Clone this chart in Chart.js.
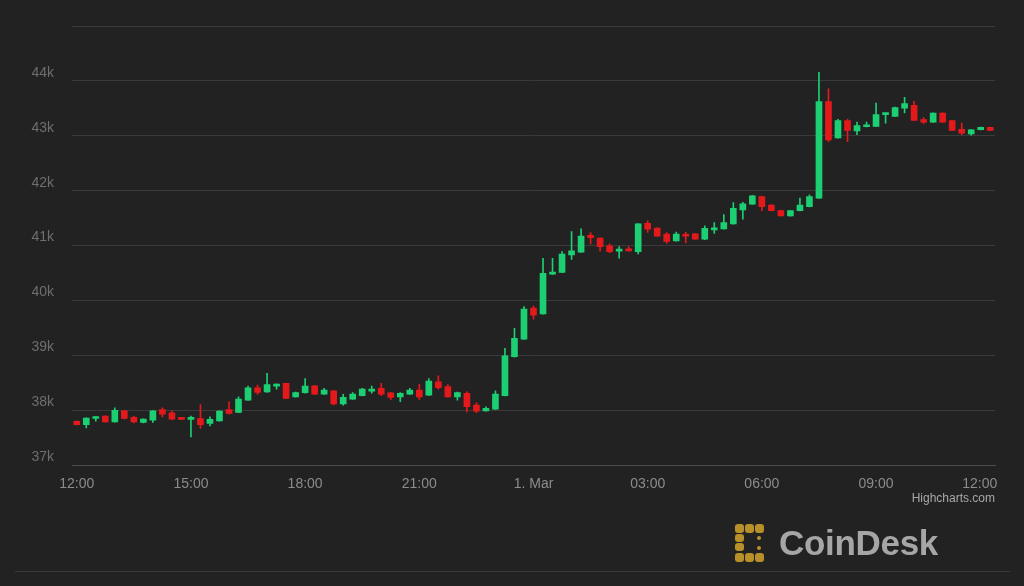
<!DOCTYPE html>
<html>
<head>
<meta charset="utf-8">
<script src="https://cdn.jsdelivr.net/npm/chart.js@4.4.1/dist/chart.umd.min.js"></script>
<style>
  html, body { margin: 0; padding: 0; background: #222222; }
  .wrap { position: relative; width: 1024px; height: 586px; overflow: hidden; background: #222222; }
  #chart { position: absolute; left: 0; top: 0; }
  .credits { position: absolute; right: 29px; top: 491px; font: 12px "Liberation Sans", Arial, sans-serif; color: #a8a8a8; }
  .logo { position: absolute; left: 735px; top: 523px; display: flex; align-items: center; }
  .logo span { font: bold 35px "Liberation Sans", Arial, sans-serif; color: #a6a6a6; margin-left: 6px; letter-spacing: -0.3px; }
  .rule { position: absolute; left: 15px; right: 14px; top: 571px; height: 1px; background: #3a3a3a; }
</style>
</head>
<body>
<div class="wrap">
  <canvas id="chart" width="1024" height="586"></canvas>
  <div class="credits">Highcharts.com</div>
  <div class="logo">
    <svg width="38" height="38" viewBox="0 0 38 38">
      <g fill="#b8902a">
        <rect x="0" y="0" width="9" height="9" rx="3"/>
        <rect x="10" y="0" width="9" height="9" rx="3"/>
        <rect x="20" y="0" width="9" height="9" rx="3"/>
        <rect x="0" y="10" width="9" height="8" rx="3"/>
        <rect x="0" y="19" width="9" height="8" rx="3"/>
        <rect x="0" y="29" width="9" height="9" rx="3"/>
        <rect x="10" y="29" width="9" height="9" rx="3"/>
        <rect x="20" y="29" width="9" height="9" rx="3"/>
        <circle cx="24" cy="14" r="2"/>
        <circle cx="24" cy="24" r="2"/>
      </g>
    </svg>
    <span>CoinDesk</span>
  </div>
  <div class="rule"></div>
</div>
<script>
// 15-minute BTC candles, 29 Feb 12:00 -> 1 Mar 12:00
const tickLabels = ['12:00', '15:00', '18:00', '21:00', '1. Mar', '03:00', '06:00', '09:00', '12:00'];

const openValues = [
  37800, 37740, 37850, 37895, 37790, 37990, 37870, 37780, 37820, 38015, 37955, 37865, 37835,
  37850, 37760, 37805, 38015, 37960, 38185, 38410, 38335, 38440, 38490, 38245, 38320, 38445,
  38295, 38355, 38115, 38205, 38265, 38350, 38400, 38320, 38245, 38295, 38370, 38275, 38520,
  38430, 38245, 38310, 38095, 37990, 38020, 38265, 38975, 39295, 39860, 39755, 40480, 40510,
  40830, 40880, 41185, 41135, 40995, 40900, 40935, 40890, 41405, 41320, 41210, 41085, 41200,
  41215, 41115, 41285, 41305, 41395, 41650, 41755, 41895, 41740, 41640, 41540, 41635, 41710,
  41865, 43625, 42960, 43275, 43090, 43165, 43170, 43385, 43355, 43505, 43555, 43295, 43250,
  43415, 43275, 43120, 43035, 43110, 43155
];
const highValues = [
  37810, 37865, 37885, 37900, 38045, 38000, 37895, 37845, 37995, 38045, 37990, 37870, 37895,
  38105, 37880, 37990, 38155, 38245, 38440, 38460, 38675, 38480, 38495, 38330, 38580, 38450,
  38400, 38360, 38290, 38325, 38400, 38440, 38490, 38325, 38325, 38400, 38475, 38580, 38630,
  38470, 38330, 38335, 38135, 38065, 38355, 39130, 39495, 39890, 39900, 40770, 40770, 40890,
  41255, 41305, 41235, 41140, 41030, 40980, 40980, 41400, 41450, 41325, 41235, 41245, 41240,
  41220, 41360, 41420, 41565, 41785, 41790, 41915, 41900, 41745, 41645, 41640, 41865, 41925,
  44155, 43855, 43300, 43305, 43250, 43250, 43595, 43410, 43525, 43700, 43630, 43330, 43420,
  43420, 43280, 43230, 43115, 43160, 43160
];
const lowValues = [
  37735, 37680, 37800, 37785, 37785, 37845, 37770, 37770, 37780, 37880, 37830, 37830, 37515,
  37670, 37715, 37800, 37930, 37955, 38180, 38290, 38325, 38385, 38210, 38240, 38310, 38290,
  38290, 38100, 38095, 38200, 38260, 38310, 38265, 38200, 38155, 38290, 38200, 38270, 38385,
  38240, 38185, 37970, 37955, 37985, 38015, 38260, 38970, 39290, 39660, 39750, 40475, 40505,
  40750, 40875, 41030, 40900, 40870, 40770, 40900, 40850, 41240, 41170, 41040, 41080, 41050,
  41115, 41110, 41220, 41300, 41390, 41480, 41750, 41635, 41630, 41540, 41535, 41630, 41705,
  41860, 42895, 42955, 42895, 43020, 43160, 43165, 43230, 43350, 43415, 43275, 43220, 43245,
  43245, 43095, 43020, 43010, 43105, 43095
];
const closeValues = [
  37740, 37860, 37880, 37790, 38000, 37850, 37790, 37840, 37990, 37930, 37840, 37835, 37865,
  37740, 37835, 37985, 37945, 38205, 38410, 38325, 38470, 38475, 38215, 38325, 38440, 38295,
  38370, 38115, 38235, 38295, 38385, 38385, 38295, 38235, 38310, 38370, 38245, 38530, 38410,
  38245, 38325, 38065, 37985, 38035, 38295, 38990, 39310, 39845, 39735, 40495, 40515, 40845,
  40905, 41175, 41145, 40980, 40890, 40935, 40905, 41395, 41300, 41170, 41075, 41210, 41170,
  41115, 41315, 41315, 41420, 41680, 41760, 41905, 41710, 41635, 41540, 41640, 41740, 41895,
  43625, 42925, 43275, 43100, 43185, 43185, 43385, 43400, 43515, 43585, 43280, 43250, 43415,
  43250, 43100, 43050, 43110, 43155, 43100
];

const UP = '#1ccf72';
const DOWN = '#e3191b';

const labels = openValues.map((v, i) => {
  const mins = 12 * 60 + i * 15;
  const h = Math.floor(mins / 60) % 24;
  const m = mins % 60;
  return String(h).padStart(2, '0') + ':' + String(m).padStart(2, '0');
});
const colors = openValues.map((o, i) => (closeValues[i] >= o ? UP : DOWN));

const ctx = document.getElementById('chart').getContext('2d');
new Chart(ctx, {
  type: 'bar',
  data: {
    labels: labels,
    datasets: [
      {
        label: 'body',
        data: openValues.map((o, i) => [o, closeValues[i]]),
        backgroundColor: colors,
        borderWidth: 0,
        barThickness: 6,
        minBarLength: 2,
        grouped: false,
        order: 0
      },
      {
        label: 'wick',
        data: lowValues.map((l, i) => [l, highValues[i]]),
        backgroundColor: colors,
        borderWidth: 0,
        barThickness: 1,
        grouped: false,
        order: 1
      }
    ]
  },
  options: {
    responsive: false,
    animation: false,
    layout: {
      padding: { top: 26, right: 29, bottom: 90, left: 0 }
    },
    plugins: {
      legend: { display: false },
      tooltip: { enabled: false }
    },
    scales: {
      x: {
        type: 'category',
        offset: true,
        grid: { display: false },
        border: { display: true, color: '#4d4d4d', width: 1 },
        ticks: {
          autoSkip: false,
          maxRotation: 0,
          padding: 3,
          color: '#8c8c8c',
          font: { family: 'Liberation Sans', size: 14 },
          callback: (v, i) => {
            if (i % 12 !== 0) return null;
            const t = tickLabels[i / 12];
            // last label sits inside the plot edge, like Highcharts does
            return i === labels.length - 1 ? t + '\u2002\u2002\u2002' : t;
          }
        },
        afterFit: (s) => { s.paddingLeft = 0; s.paddingRight = 0; }
      },
      y: {
        min: 37000,
        max: 45000,
        grid: { color: '#3a3a3a', drawTicks: false },
        border: { display: false },
        ticks: {
          stepSize: 1000,
          padding: 18,
          labelOffset: -8,
          color: '#6e6e6e',
          font: { family: 'Liberation Sans', size: 14 },
          callback: (v) => (v === 45000 ? '' : v / 1000 + 'k')
        },
        afterFit: (s) => { s.width = 72; s.paddingTop = 0; s.paddingBottom = 0; }
      }
    }
  }
});
</script>
</body>
</html>
